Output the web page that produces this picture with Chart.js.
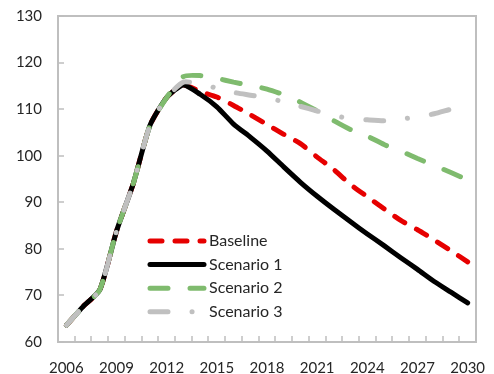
<!DOCTYPE html>
<html>
<head>
<meta charset="utf-8">
<script src="https://cdn.jsdelivr.net/npm/chart.js@4/dist/chart.umd.min.js"></script>
<style>
html,body{margin:0;padding:0;background:#fff;}
#wrap{width:494px;height:374px;}
</style>
</head>
<body>
<div id="wrap"><canvas id="c" width="494" height="374"></canvas></div>
<script>
const years = ['2006','2007','2008','2009','2010','2011','2012','2013','2014','2015','2016','2017','2018','2019','2020','2021','2022','2023','2024','2025','2026','2027','2028','2029','2030'];
const history = [63.6, 67.6, 71.2, 83.8, 94.0, 106.5, 112.5];
const baseline  = [115.2,113.8,112.6,110.8,108.8,106.7,104.6,102.6,99.7,97.0,93.8,91.2,88.6,86.1,84.1,81.9,79.6,77.2];
const scenario1 = [115.2,113.2,110.5,106.8,104.0,101.0,97.6,94.3,91.3,88.5,85.8,83.2,80.7,78.1,75.6,73.0,70.7,68.4];
const scenario2 = [117.0,117.2,116.6,115.8,115.1,114.3,113.1,111.5,109.6,107.5,105.6,104.2,102.4,101.0,99.4,97.9,96.4,94.8];
const scenario3 = [115.8,115.4,114.5,113.6,113.0,112.4,111.6,110.6,109.6,108.6,108.0,107.7,107.5,107.9,108.3,109.0,110.0,110.9];
const seriesNames = ['Baseline','Scenario 1','Scenario 2','Scenario 3'];
const yMin = 60, yMax = 130, yStep = 10;
const labelEvery = 3;

const FONT = 'Lato, "Open Sans", sans-serif';
const TXT = '#262626';
const AXIS = '#BFBFBF';

const styles = [
  {color:'#E60000', dash:[12,13], width:5, order:4},
  {color:'#000000', dash:[], width:5, order:3},
  {color:'#7FBB6E', dash:[18,22], width:5, order:2},
  {color:'#C0C0C0', dash:[18,24,0.1,24], width:5, order:1}
];
const projections = [baseline, scenario1, scenario2, scenario3];

const datasets = seriesNames.map((name,i)=>({
  label: name,
  data: history.concat(projections[i]),
  borderColor: styles[i].color,
  backgroundColor: styles[i].color,
  borderWidth: styles[i].width,
  borderDash: styles[i].dash,
  borderCapStyle: 'round',
  borderJoinStyle: 'round',
  pointRadius: 0,
  tension: 0.2,
  fill: false,
  order: styles[i].order
}));

const framePlugin = {
  id: 'frame',
  beforeDatasetsDraw(chart){
    const {ctx, chartArea:a, scales:{x,y}} = chart;
    ctx.save();
    ctx.strokeStyle = AXIS;
    ctx.lineWidth = 2;
    ctx.strokeRect(a.left, a.top, a.right-a.left, a.bottom-a.top);
    ctx.lineWidth = 1.5;
    ctx.beginPath();
    y.ticks.forEach(t=>{
      const py = Math.round(y.getPixelForValue(t.value));
      ctx.moveTo(a.left, py); ctx.lineTo(a.left+6, py);
    });
    for(let i=1;i<years.length;i++){
      const px = Math.round((x.getPixelForValue(i-1)+x.getPixelForValue(i))/2);
      ctx.moveTo(px, a.bottom); ctx.lineTo(px, a.bottom-6);
    }
    ctx.stroke();
    ctx.restore();
  },
  afterDatasetsDraw(chart){
    const {ctx} = chart;
    const x0 = 150, x1 = 204, yStart = 241, rowH = 23.6;
    ctx.save();
    chart.data.datasets.forEach((ds,i)=>{
      const yy = yStart + i*rowH;
      ctx.strokeStyle = ds.borderColor;
      ctx.lineWidth = ds.borderWidth;
      ctx.lineCap = 'round';
      ctx.setLineDash(ds.borderDash);
      ctx.beginPath();
      ctx.moveTo(x0, yy); ctx.lineTo(x1, yy);
      ctx.stroke();
      ctx.setLineDash([]);
      ctx.fillStyle = TXT;
      ctx.font = '16px ' + FONT;
      ctx.textBaseline = 'middle';
      ctx.textAlign = 'left';
      ctx.fillText(ds.label, 209, yy);
    });
    ctx.restore();
  }
};

new Chart(document.getElementById('c'), {
  type: 'line',
  data: { labels: years, datasets },
  options: {
    responsive: false,
    animation: false,
    devicePixelRatio: 1,
    layout: { padding: { left: 0, right: 18, top: 16, bottom: 0 } },
    plugins: { legend: { display: false }, tooltip: { enabled: false } },
    scales: {
      x: {
        type: 'category',
        offset: true,
        grid: { display: false, drawTicks: false },
        border: { display: false },
        afterFit(s){ s.height = 32; s.paddingLeft = 0; s.paddingRight = 0; },
        ticks: {
          autoSkip: false, maxRotation: 0, padding: 17,
          color: TXT, font: { family: FONT, size: 15 },
          callback(v, i){ return i % labelEvery === 0 ? years[i] : ''; }
        }
      },
      y: {
        min: yMin, max: yMax,
        grid: { display: false, drawTicks: false },
        border: { display: false },
        afterFit(s){ s.width = 58; s.paddingTop = 0; s.paddingBottom = 0; },
        ticks: { stepSize: yStep, padding: 16, color: TXT, font: { family: FONT, size: 15 } }
      }
    }
  },
  plugins: [framePlugin]
});
</script>
</body>
</html>
